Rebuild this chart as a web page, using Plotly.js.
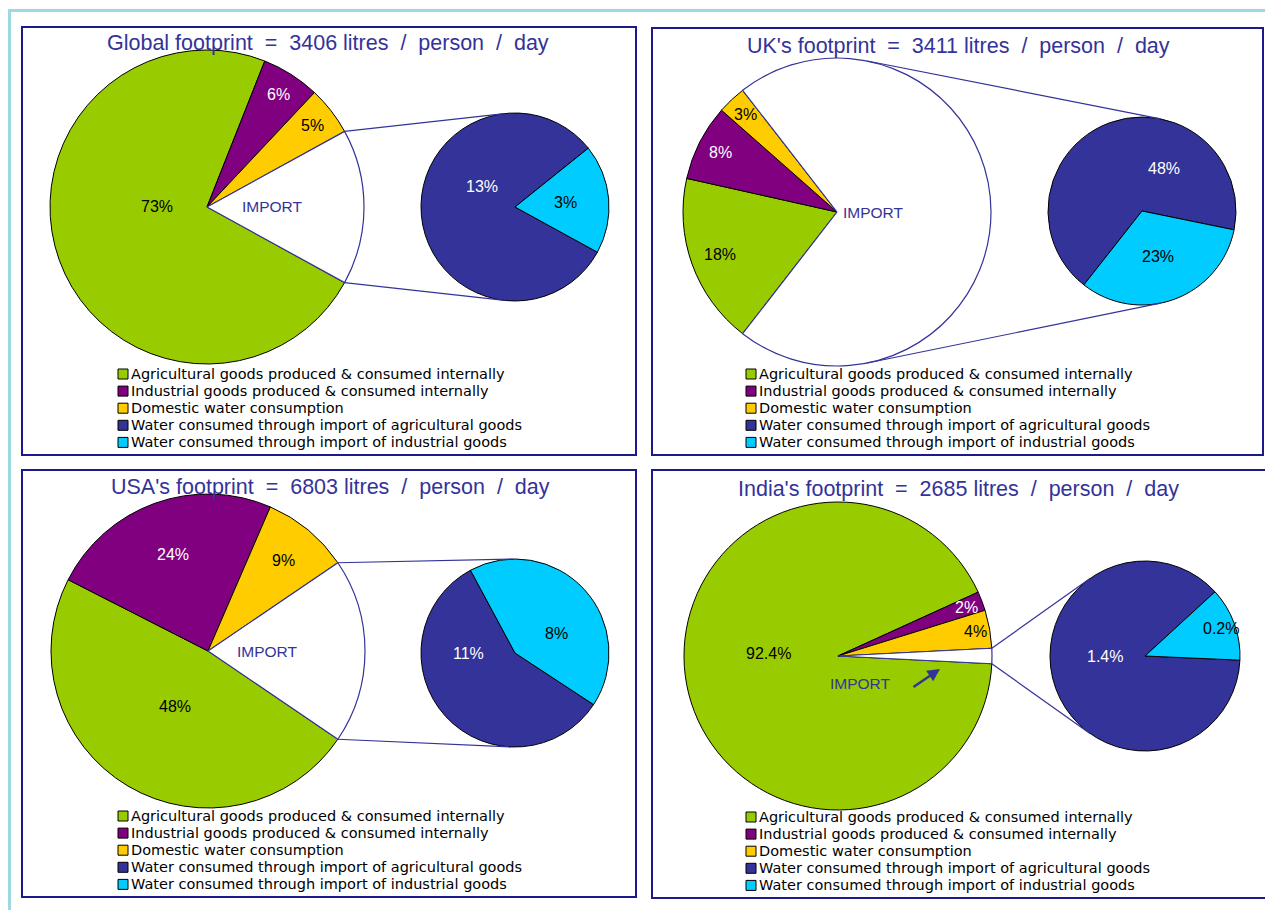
<!DOCTYPE html>
<html><head><meta charset="utf-8">
<script src="https://cdn.plot.ly/plotly-3.0.1.min.js"></script>
<style>html,body{margin:0;padding:0;background:#fff;overflow:hidden}</style>
</head><body><div id="chart" style="width:1265px;height:910px"></div>
<script>
// ---------------- data ----------------
const regions = ['Global', "UK's", "USA's", "India's"];
const footprintLitres = [3406, 3411, 6803, 2685];
const categories = [
  'Agricultural goods produced & consumed internally',
  'Industrial goods produced & consumed internally',
  'Domestic water consumption',
  'Water consumed through import of agricultural goods',
  'Water consumed through import of industrial goods'
];
const agriInternal = [73, 18, 48, 92.4];
const indInternal  = [6, 8, 24, 2];
const domesticUse  = [5, 3, 9, 4];
const importAgri   = [13, 48, 11, 1.4];
const importInd    = [3, 23, 8, 0.2];
const importLabel  = 'IMPORT';

// ---------------- style ----------------
const W = 1265, H = 910;
const FONT = 'Liberation Sans, Arial, sans-serif';
const LEGFONT = 'DejaVu Sans, Verdana, sans-serif';
const NAVY = '#333399';
const BORDER = '#1a1a8c';
const colors = ['#99cc00', '#800080', '#ffcc00', '#333399', '#00ccff'];
const textColors = ['#000000', '#ffffff', '#000000', '#ffffff', '#000000'];

// label placement: a = angle override (deg, math), f = fraction of radius
const panels = [
  {box:[22,27,636,455], title:[328,43], main:{cx:207,cy:207,r:157}, small:{cx:515,cy:207,r:94,rot:118.75}, leg:[118,374],
   lab:{agri:{a:180,f:0.32}, ind:{f:0.85}, dom:{f:0.85}, imp:{a:0,f:0.42}, navy:{a:148,f:0.42}, cyan:{f:0.54}}},
  {box:[652,28,1263,455], title:[959,46], main:{cx:837,cy:212,r:154}, small:{cx:1142,cy:211,r:94,rot:218.2}, leg:[746,374],
   lab:{agri:{f:0.81}, ind:{f:0.85}, dom:{f:0.87}, imp:{a:0,f:0.24}, navy:{a:63,f:0.51}, cyan:{f:0.51}}},
  {box:[22,470,636,897], title:[330,487], main:{cx:208,cy:651,r:157}, small:{cx:515,cy:653,r:94,rot:123.3}, leg:[118,816],
   lab:{agri:{f:0.41}, ind:{f:0.65}, dom:{f:0.75}, imp:{a:0,f:0.38}, navy:{a:181,f:0.49}, cyan:{a:25,f:0.49}}},
  {box:[652,470,1270,898], title:[959,489], main:{cx:838,cy:656,r:154}, small:{cx:1145,cy:656,r:95,rot:92.5}, leg:[746,817],
   lab:{agri:{a:178,f:0.45}, ind:{f:0.89}, dom:{f:0.91}, imp:{a:-50,f:0.23}, navy:{a:180,f:0.42}, cyan:{f:0.85}},
   arrow:{x:940, y:669, ax:-28, ay:19}}
];

const X = p => p / W;
const Y = p => 1 - p / H;
const rad = d => d * Math.PI / 180;
const onCircle = (c, r, deg) => [c.cx + r * Math.cos(rad(deg)), c.cy - r * Math.sin(rad(deg))];
const fmt = v => v + '%';

const traces = [], shapes = [], annotations = [];

function label(c, spec, defAngle, text, color, size) {
  const a = (spec.a !== undefined) ? spec.a : defAngle;
  const p = onCircle(c, c.r * spec.f, a);
  annotations.push({xref:'paper', yref:'paper', x:X(p[0]), y:Y(p[1]), xanchor:'center', yanchor:'middle',
    text:text, showarrow:false, font:{family:FONT, size:size || 16, color:color}});
}

// light blue outer frame
shapes.push({type:'line', xref:'paper', yref:'paper', x0:X(8), x1:X(1266), y0:Y(10.5), y1:Y(10.5), line:{color:'#9dd8e5', width:3}});
shapes.push({type:'line', xref:'paper', yref:'paper', x0:X(9.5), x1:X(9.5), y0:Y(9), y1:Y(912), line:{color:'#9dd8e5', width:3}});

panels.forEach((P, i) => {
  const m = P.main, s = P.small;
  const imp = importAgri[i] + importInd[i];
  const mainVals = [agriInternal[i], indInternal[i], domesticUse[i], imp];
  const total = mainVals.reduce((a, b) => a + b, 0);
  const k = 360 / total;
  const h = imp * k / 2;

  // panel border
  shapes.push({type:'rect', xref:'paper', yref:'paper', x0:X(P.box[0]), x1:X(P.box[2]), y0:Y(P.box[1]), y1:Y(P.box[3]),
    line:{color:BORDER, width:2}, fillcolor:'rgba(0,0,0,0)', layer:'below'});

  // main pie
  traces.push({type:'pie', values:mainVals, labels:[categories[0], categories[1], categories[2], importLabel],
    sort:false, direction:'clockwise', rotation:90 + h, textinfo:'none', showlegend:false,
    domain:{x:[X(m.cx - m.r), X(m.cx + m.r)], y:[Y(m.cy + m.r), Y(m.cy - m.r)]},
    marker:{colors:[colors[0], colors[1], colors[2], '#ffffff'],
            line:{color:['#000000', '#000000', '#000000', NAVY], width:[1, 1, 1, 1.2]}},
    hovertemplate:'%{label}: %{value}%<extra></extra>'});

  // secondary pie (imports)
  const smallVals = [importAgri[i], importInd[i]];
  const k2 = 360 / imp;
  traces.push({type:'pie', values:smallVals, labels:[categories[3], categories[4]],
    sort:false, direction:'clockwise', rotation:s.rot, textinfo:'none', showlegend:false,
    domain:{x:[X(s.cx - s.r), X(s.cx + s.r)], y:[Y(s.cy + s.r), Y(s.cy - s.r)]},
    marker:{colors:[colors[3], colors[4]], line:{color:'#000000', width:1}},
    hovertemplate:'%{label}: %{value}%<extra></extra>'});

  // slice label angles (math degrees, counter-clockwise from 3 o'clock)
  const domMid = h + domesticUse[i] * k / 2;
  const indMid = h + domesticUse[i] * k + indInternal[i] * k / 2;
  const agriMid = (h + (domesticUse[i] + indInternal[i]) * k + 360 - h) / 2;
  label(m, P.lab.agri, agriMid, fmt(agriInternal[i]), textColors[0]);
  label(m, P.lab.ind, indMid, fmt(indInternal[i]), textColors[1]);
  label(m, P.lab.dom, domMid, fmt(domesticUse[i]), textColors[2]);
  label(m, P.lab.imp, 0, importLabel, NAVY, 15.5);

  const A = 90 - s.rot;
  const cyanMid = A + importInd[i] * k2 / 2;
  const navyMid = A + importInd[i] * k2 + importAgri[i] * k2 / 2;
  label(s, P.lab.navy, navyMid, fmt(importAgri[i]), textColors[3]);
  label(s, P.lab.cyan, cyanMid, fmt(importInd[i]), textColors[4]);

  // connector lines (pie-of-pie)
  const D = s.cx - m.cx;
  const phi = Math.acos((m.r - s.r) / D) * 180 / Math.PI;
  [1, -1].forEach(sign => {
    let p1, p2;
    if (h >= phi) {
      p1 = onCircle(m, m.r, sign * phi);
      p2 = onCircle(s, s.r, sign * phi);
    } else {
      p1 = onCircle(m, m.r, sign * h);
      const dx = p1[0] - s.cx, dy = s.cy - p1[1];
      const d = Math.hypot(dx, dy);
      const beta = Math.atan2(dy, dx) * 180 / Math.PI;
      const alpha = Math.acos(s.r / d) * 180 / Math.PI;
      p2 = onCircle(s, s.r, beta - sign * alpha);
    }
    shapes.push({type:'line', xref:'paper', yref:'paper', x0:X(p1[0]), y0:Y(p1[1]), x1:X(p2[0]), y1:Y(p2[1]),
      line:{color:NAVY, width:1.2}});
  });

  // title
  const sp = '\u00a0';
  annotations.push({xref:'paper', yref:'paper', x:X(P.title[0]), y:Y(P.title[1]), xanchor:'center', yanchor:'middle', showarrow:false,
    text:`${regions[i]} footprint ${sp}=${sp} ${footprintLitres[i]} litres ${sp}/${sp} person ${sp}/${sp} day`,
    font:{family:FONT, size:21.5, color:NAVY}});

  // legend (drawn per panel)
  categories.forEach((c, j) => {
    const yc = P.leg[1] + j * 17.1;
    shapes.push({type:'rect', xref:'paper', yref:'paper', x0:X(P.leg[0]), x1:X(P.leg[0] + 10), y0:Y(yc + 5), y1:Y(yc - 5),
      fillcolor:colors[j], line:{color:'#000000', width:1}});
    annotations.push({xref:'paper', yref:'paper', x:X(P.leg[0] + 12), y:Y(yc), xanchor:'left', yanchor:'middle', showarrow:false,
      borderpad:0, text:c, font:{family:LEGFONT, size:14.5, color:'#000000'}});
  });

  if (P.arrow) {
    annotations.push({xref:'paper', yref:'paper', x:X(P.arrow.x), y:Y(P.arrow.y), ax:P.arrow.ax, ay:P.arrow.ay,
      text:'', showarrow:true, arrowhead:2, arrowsize:1, arrowwidth:2.5, arrowcolor:NAVY});
  }
});

const layout = {
  width:W, height:H, margin:{l:0, r:0, t:0, b:0}, paper_bgcolor:'#ffffff', plot_bgcolor:'#ffffff',
  showlegend:false, shapes:shapes, annotations:annotations, font:{family:FONT}
};
Plotly.newPlot('chart', traces, layout, {displayModeBar:false, staticPlot:true});
</script></body></html>
